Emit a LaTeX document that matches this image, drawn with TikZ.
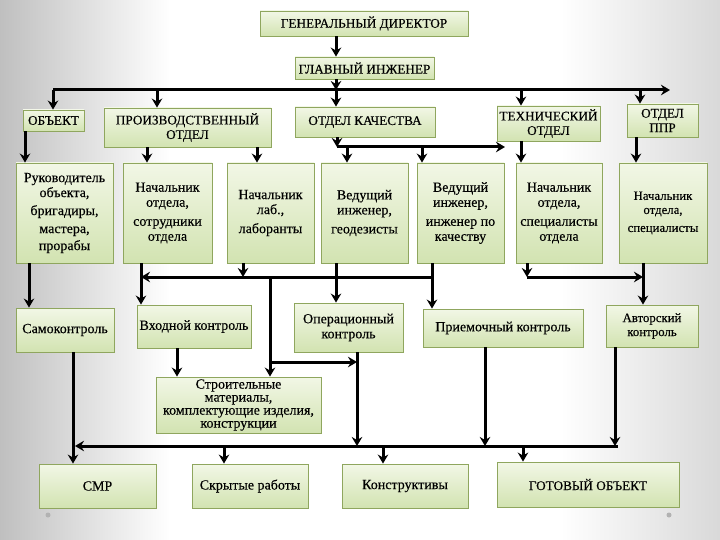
\documentclass[tikz,border=0pt]{standalone}
\usepackage{fontspec}
\setmainfont{Liberation Serif}[FakeBold=0.3]
\usetikzlibrary{arrows.meta}
\definecolor{boxtop}{HTML}{F2F7E6}
\definecolor{boxbot}{HTML}{D2E3B1}
\definecolor{boxline}{HTML}{8FA65E}
\begin{document}
\begin{tikzpicture}[x=1pt,y=-1pt,
  box/.style={draw=boxline, line width=0.9pt, top color=boxtop, bottom color=boxbot, inner sep=1pt, align=center, text=black},
  head/.style={box, font=\fontsize{13.2}{14.5}\selectfont},
  body/.style={box, font=\fontsize{14}{15}\selectfont},
  smallbox/.style={box, font=\fontsize{12.8}{14}\selectfont},
  arr/.style={line width=3pt, -{Stealth[length=9pt,width=10.5pt,inset=3pt]}},
  ln/.style={line width=3pt}
]
% background
\useasboundingbox (0,0) rectangle (720,540);
\fill[white] (0,0) rectangle (720,540);
\shade[left color=gray!50, right color=white] (0,0) rectangle (170,540);
\shade[left color=white, right color=gray!30] (560,0) rectangle (720,540);
\fill[gray!60] (48,515) circle (2.5);
\fill[gray!60] (669,515) circle (2.5);

% level 0-1
\node[head, minimum width=208pt, minimum height=25pt] (gd) at (364,23.5) {ГЕНЕРАЛЬНЫЙ ДИРЕКТОР};
\node[head, minimum width=139pt, minimum height=22pt] (gi) at (364.5,68) {ГЛАВНЫЙ ИНЖЕНЕР};

% departments
\node[head, minimum width=61pt, minimum height=21pt] (obj) at (53.5,120.5) {ОБЪЕКТ};
\node[head, minimum width=167pt, minimum height=39pt] (prod) at (187.5,127.5) {ПРОИЗВОДСТВЕННЫЙ\\ОТДЕЛ};
\node[head, minimum width=140pt, minimum height=30pt] (kach) at (365,122) {ОТДЕЛ КАЧЕСТВА};
\node[head, minimum width=103pt, minimum height=35pt] (tech) at (548.5,123.5) {ТЕХНИЧЕСКИЙ\\ОТДЕЛ};
\node[head, minimum width=71pt, minimum height=33pt] (ppr) at (662.5,120.5) {ОТДЕЛ\\ППР};

% row 2
\node[body, minimum width=97pt, minimum height=100pt] (r1) at (64.5,213) {Руководитель\\объекта,\\[3pt]бригадиры,\\[3pt]мастера,\\[2pt]прорабы};
\node[body, minimum width=89pt, minimum height=100pt] (r2) at (167.5,213) {Начальник\\отдела,\\[4pt]сотрудники\\отдела};
\node[body, minimum width=87pt, minimum height=100pt] (r3) at (270.5,213) {Начальник\\лаб.,\\[4pt]лаборанты};
\node[body, minimum width=87pt, minimum height=100pt] (r4) at (364.5,213) {Ведущий\\инженер,\\[4pt]геодезисты};
\node[body, minimum width=87pt, minimum height=100pt] (r5) at (460.5,213) {Ведущий\\инженер,\\[4pt]инженер по\\качеству};
\node[body, minimum width=86pt, minimum height=100pt] (r6) at (559,213) {Начальник\\отдела,\\[4pt]специалисты\\отдела};
\node[smallbox, minimum width=88pt, minimum height=100pt] (r7) at (663,213) {Начальник\\отдела,\\[4pt]специалисты};

% row 3
\node[body, minimum width=98pt, minimum height=44pt] (s1) at (65,330) {Самоконтроль};
\node[body, minimum width=114pt, minimum height=43pt] (s2) at (194,326.5) {Входной контроль};
\node[body, minimum width=109pt, minimum height=49pt] (s3) at (348.5,327.5) {Операционный\\контроль};
\node[body, minimum width=160pt, minimum height=38pt] (s4) at (503,328) {Приемочный контроль};
\node[smallbox, minimum width=92pt, minimum height=42pt] (s5) at (652,326) {Авторский\\контроль};

\node[body, minimum width=165pt, minimum height=56pt, font=\fontsize{14}{13}\selectfont] (mat) at (238.5,405) {Строительные\\материалы,\\комплектующие изделия,\\конструкции};

% bottom
\node[body, minimum width=117pt, minimum height=44pt] (b1) at (97.5,486) {СМР};
\node[body, minimum width=116pt, minimum height=44pt] (b2) at (250,486) {Скрытые работы};
\node[body, minimum width=126pt, minimum height=44pt] (b3) at (405,486) {Конструктивы};
\node[head, minimum width=182pt, minimum height=45pt] (b4) at (588,484.5) {ГОТОВЫЙ ОБЪЕКТ};

% junction coordinates
\coordinate (mainL) at (53,90);
\coordinate (mainR) at (670,90);
\coordinate (mainC) at (336,90);
\coordinate (kachJ) at (337,147);
\coordinate (kachR) at (505,147);
\coordinate (midL) at (141,277);
\coordinate (midR) at (432,277);
\coordinate (labJ) at (243,277);
\coordinate (matJ) at (270,277);
\coordinate (matK) at (270,362);
\coordinate (opJ) at (357,362);
\coordinate (techJ) at (527,277);
\coordinate (techR) at (643,277);
\coordinate (botL) at (75,446);
\coordinate (botR) at (618,446);
\coordinate (botOp) at (357,446);

% top connectors
\draw[arr] (gd.south -| mainC) -- (gi.north -| mainC);
\draw[arr] (gi.south -| mainC) -- (mainC);
\draw[arr] (mainL) -- (mainR);
\draw[arr] (mainL) -- (obj.north -| mainL);
\draw[arr] (mainL -| 157,0) -- (prod.north -| 157,0);
\draw[arr] (mainC) -- (kach.north -| mainC);
\draw[arr] (mainL -| 521,0) -- (tech.north -| 521,0);
\draw[arr] (mainL -| 640,0) -- (ppr.north -| 640,0);

% departments to row 2
\draw[arr] (obj.south -| 25,0) -- (r1.north -| 25,0);
\draw[arr] (prod.south -| 147,0) -- (r2.north -| 147,0);
\draw[arr] (prod.south -| 257,0) -- (r3.north -| 257,0);
\draw[arr] (kach.south -| kachJ) -- (kachJ);
\draw[arr] (kachJ) -- (kachR);
\draw[arr] (kachJ -| 347,0) -- (r4.north -| 347,0);
\draw[arr] (kachJ -| 422,0) -- (r5.north -| 422,0);
\draw[arr] (tech.south -| 521,0) -- (r6.north -| 521,0);
\draw[arr] (ppr.south -| 636,0) -- (r7.north -| 636,0);

% row 2 to row 3
\draw[arr] (r1.south -| 29,0) -- (s1.north -| 29,0);
\draw[arr] (r2.south -| midL) -- (s2.north -| midL);
\draw[arr] (r3.south -| labJ) -- (labJ);
\draw[arr] (midR) -- (midL);
\draw[arr] (r5.south -| midR) -- (s4.north -| midR);
\draw[arr] (r4.south -| 336,0) -- (s3.north -| 336,0);
\draw[arr] (matJ) -- (mat.north -| matJ);
\draw[arr] (matK) -- (opJ);
\draw[arr] (s3.south -| opJ) -- (botOp);
\draw[arr] (s2.south -| 177,0) -- (mat.north -| 177,0);
\draw[arr] (r6.south -| techJ) -- (techJ);
\draw[arr] (techJ) -- (techR);
\draw[arr] (r7.south -| techR) -- (s5.north -| techR);

% row 3 to bottom
\draw[arr] (s1.south -| 73,0) -- (b1.north -| 73,0);
\draw[arr] (botR) -- (botL);
\draw[arr] (s4.south -| 485,0) -- (botL -| 485,0);
\draw[arr] (s5.south -| 615,0) -- (botL -| 615,0);
\draw[arr] (botL -| 224,0) -- (b2.north -| 224,0);
\draw[arr] (botL -| 383,0) -- (b3.north -| 383,0);
\draw[arr] (botL -| 523,0) -- (b4.north -| 523,0);
\end{tikzpicture}
\end{document}
